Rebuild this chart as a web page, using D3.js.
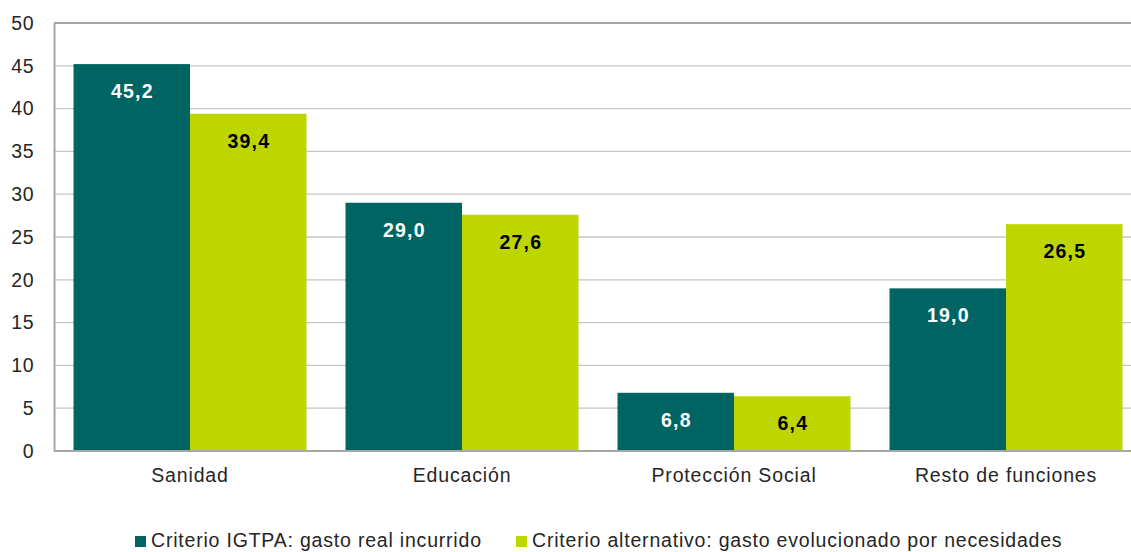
<!DOCTYPE html>
<html lang="es">
<head>
<meta charset="UTF-8">
<title>Gasto por funciones</title>
<script src="https://d3js.org/d3.v7.min.js"></script>
<style>
    body { margin: 0; background: #fff; }
    svg { font-family: "Liberation Sans", Arial, sans-serif; }
</style>
</head>
<body>
<div id="chart"></div>
<script>
    const categories = ["Sanidad", "Educación", "Protección Social", "Resto de funciones"];
    const seriesNames = ["Criterio IGTPA: gasto real incurrido", "Criterio alternativo: gasto evolucionado por necesidades"];
    const igtpa = [45.2, 29.0, 6.8, 19.0];
    const alternativo = [39.4, 27.6, 6.4, 26.5];
    const yTicks = [0, 5, 10, 15, 20, 25, 30, 35, 40, 45, 50];

    const width = 1131, height = 552;
    const margin = { top: 23, right: -11, bottom: 101, left: 54 };
    const colors = ["#006462", "#bed600"];
    const labelColors = ["#ffffff", "#000000"];

    const svg = d3.select("#chart").append("svg")
        .attr("width", width)
        .attr("height", height);

    const x = d3.scaleBand()
        .domain(categories)
        .range([margin.left, width - margin.right])
        .paddingInner(0.1434)
        .paddingOuter(0.0717);

    const x1 = d3.scaleBand()
        .domain([0, 1])
        .range([0, x.bandwidth()]);

    const y = d3.scaleLinear()
        .domain([0, 50])
        .range([height - margin.bottom, margin.top]);

    // gridlines
    svg.append("g")
        .selectAll("line")
        .data(yTicks.filter(d => d > 0))
        .join("line")
        .attr("x1", margin.left)
        .attr("x2", width)
        .attr("y1", d => y(d))
        .attr("y2", d => y(d))
        .attr("stroke", d => d === 50 ? "#a6a6a6" : "#c6c6c6")
        .attr("stroke-width", d => d === 50 ? 2 : 1.3);

    // y axis
    const yAxis = svg.append("g")
        .attr("transform", `translate(${margin.left},0)`)
        .call(d3.axisLeft(y).tickValues(yTicks).tickSize(0).tickPadding(20));
    yAxis.select(".domain").attr("stroke", "#a6a6a6").attr("stroke-width", 2);
    yAxis.selectAll("text")
        .attr("font-size", 19.5)
        .attr("letter-spacing", 0.5)
        .attr("fill", "#262626")
        .attr("font-family", "Liberation Sans, Arial, sans-serif");

    const rows = categories.map((c, i) => ({ cat: c, vals: [igtpa[i], alternativo[i]] }));

    const groups = svg.append("g")
        .selectAll("g")
        .data(rows)
        .join("g")
        .attr("transform", d => `translate(${x(d.cat)},0)`);

    groups.selectAll("rect")
        .data(d => d.vals.map((v, k) => ({ v, k })))
        .join("rect")
        .attr("x", d => x1(d.k))
        .attr("width", x1.bandwidth())
        .attr("y", d => y(d.v))
        .attr("height", d => y(0) - y(d.v))
        .attr("fill", d => colors[d.k]);

    groups.selectAll("text")
        .data(d => d.vals.map((v, k) => ({ v, k })))
        .join("text")
        .attr("x", d => x1(d.k) + x1.bandwidth() / 2 + 0.6)
        .attr("y", d => y(d.v) + 34)
        .attr("text-anchor", "middle")
        .attr("font-size", 19.5)
        .attr("letter-spacing", 1.2)
        .attr("font-weight", "bold")
        .attr("fill", d => labelColors[d.k])
        .text(d => d.v.toFixed(1).replace(".", ","));

    // x axis
    const xAxis = svg.append("g")
        .attr("transform", `translate(0,${y(0)})`)
        .call(d3.axisBottom(x).tickSize(0).tickPadding(17));
    xAxis.select(".domain").attr("stroke", "#a6a6a6").attr("stroke-width", 2)
        .attr("d", `M${margin.left},0H${width}`);
    xAxis.selectAll("text")
        .attr("font-size", 19.5)
        .attr("letter-spacing", 0.85)
        .attr("fill", "#262626")
        .attr("font-family", "Liberation Sans, Arial, sans-serif");

    // legend
    const legendX = [135, 516];
    const legend = svg.append("g")
        .selectAll("g")
        .data(seriesNames)
        .join("g")
        .attr("transform", (d, i) => `translate(${legendX[i]},${540})`);
    legend.append("rect")
        .attr("x", 0).attr("y", -4)
        .attr("width", 11).attr("height", 11)
        .attr("fill", (d, i) => colors[i]);
    legend.append("text")
        .attr("x", 16)
        .attr("dy", "0.35em")
        .attr("font-size", 19.5)
        .attr("letter-spacing", 0.8)
        .attr("fill", "#262626")
        .text(d => d);
</script>
</body>
</html>
